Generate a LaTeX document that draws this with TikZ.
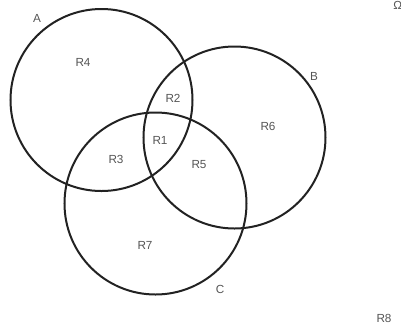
\documentclass[tikz,border=0pt]{standalone}
\usepackage{fontspec}
\setmainfont{Liberation Sans}
\definecolor{ringgray}{HTML}{222222}
\definecolor{labelgray}{HTML}{555555}

\begin{document}
\begin{tikzpicture}[x=0.75pt, y=-0.75pt,
    ring/.style={draw=ringgray, line width=1.5pt},
    lbl/.style={text=labelgray, font=\fontsize{8.8}{10}\selectfont, inner sep=0pt}]
    \useasboundingbox (0,0) rectangle (401,330);
	\draw[ring] (101.5,100) circle (91);
	\draw[ring] (234.5,137.5) circle (91);
	\draw[ring] (155.5,203.5) circle (91);
    % set names
    \node[lbl] (setA) at (37,18) {A};
    \node[lbl] (setB) at (314,76) {B};
    \node[lbl] (setC) at (220,289) {C};
    \node[lbl, anchor=north west] (omega) at (393,1) {Ω};
    % regions
    \node[lbl] (r1) at (160,140) {R1};
    \node[lbl] (r2) at (173,98) {R2};
    \node[lbl] (r3) at (116,159) {R3};
    \node[lbl] (r4) at (83,62) {R4};
    \node[lbl] (r5) at (199,165) {R5};
    \node[lbl] (r6) at (268,126) {R6};
    \node[lbl] (r7) at (145,245) {R7};
    \node[lbl] (r8) at (384,318) {R8};
  \end{tikzpicture}
\end{document}
